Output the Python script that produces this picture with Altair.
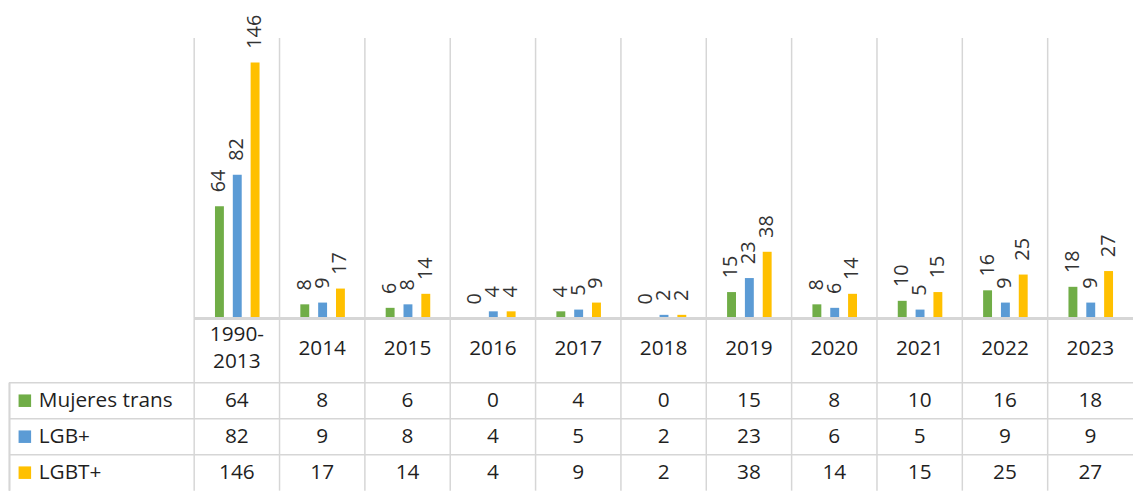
import altair as alt
import pandas as pd

# ---- data ----
categories = ["1990-2013", "2014", "2015", "2016", "2017", "2018",
              "2019", "2020", "2021", "2022", "2023"]
header_labels = ["1990-\n2013", "2014", "2015", "2016", "2017", "2018",
                 "2019", "2020", "2021", "2022", "2023"]
series = ["Mujeres trans", "LGB+", "LGBT+"]
mujeres_trans = [64, 8, 6, 0, 4, 0, 15, 8, 10, 16, 18]
lgb = [82, 9, 8, 4, 5, 2, 23, 6, 5, 9, 9]
lgbt = [146, 17, 14, 4, 9, 2, 38, 14, 15, 25, 27]
colors = ["#70AD47", "#5B9BD5", "#FFC000"]

rows = []
for s, vals in zip(series, [mujeres_trans, lgb, lgbt]):
    for c, v in zip(categories, vals):
        rows.append({"cat": c, "series": s, "value": v})
df = pd.DataFrame(rows)
cat_df = pd.DataFrame({"cat": categories, "label": header_labels})
series_df = pd.DataFrame({"series": series})

FONT = "Open Sans"
GRID = "#D6D6D6"
TXT = "#1F1F1F"

W = 1135
TOP_H, TAB_H = 311, 174
x_scale = alt.Scale(domain=categories, range=[187, W], paddingInner=0, paddingOuter=0)
xoff_scale = alt.Scale(domain=series, range=[21, 66], paddingInner=0.5, paddingOuter=0)
y_scale = alt.Scale(domain=[0, 160], range=[TOP_H, 28], nice=False, zero=True)
row_scale = alt.Scale(domain=series, range=[65, TAB_H], paddingInner=0, paddingOuter=0)
color_scale = alt.Scale(domain=series, range=colors)

X = alt.X("cat:N", scale=x_scale, axis=None, sort=categories)
XG = alt.X("cat:N", scale=x_scale, axis=None, sort=categories, bandPosition=0)
XO = alt.XOffset("series:N", scale=xoff_scale, sort=series)
YV = alt.Y("value:Q", scale=y_scale, axis=None)

# ---- top: bars ----
vgrid_top = alt.Chart(cat_df).mark_rule(stroke=GRID, strokeWidth=1.5).encode(
    x=XG, y=alt.value(28), y2=alt.value(TOP_H)
)
bars = alt.Chart(df).mark_bar().encode(
    x=X, xOffset=XO, y=YV,
    color=alt.Color("series:N", scale=color_scale, legend=None),
)
labels = alt.Chart(df).mark_text(
    angle=270, align="left", baseline="middle", dx=14,
    font=FONT, fontSize=20, color="#333333"
).encode(x=X, xOffset=XO, y=YV, text="value:Q")
baseline = alt.Chart(cat_df).mark_rule(stroke=GRID, strokeWidth=2.5).encode(
    y=alt.YDatum(0, scale=y_scale), x=alt.value(187), x2=alt.value(W)
)
top = alt.layer(vgrid_top, bars, labels, baseline).properties(width=W, height=TOP_H)

# ---- bottom: data table ----
Yrow = alt.Y("series:N", scale=row_scale, axis=None, sort=series)
vgrid_tab = alt.Chart(cat_df).mark_rule(stroke=GRID, strokeWidth=1.5).encode(
    x=XG, y=alt.value(0), y2=alt.value(TAB_H)
)
hlines = alt.Chart(series_df).mark_rule(stroke=GRID, strokeWidth=1.5).encode(
    y=alt.Y("series:N", scale=row_scale, axis=None, sort=series, bandPosition=0),
    x=alt.value(0), x2=alt.value(W),
)
left_border = alt.Chart(series_df).mark_rule(stroke=GRID, strokeWidth=1.5).encode(
    x=alt.value(0.5), y=alt.value(65), y2=alt.value(TAB_H)
)
header_text = dict(font=FONT, fontSize=21, color=TXT, lineBreak="\n", lineHeight=27,
                   baseline="middle")
header_single = alt.Chart(cat_df).transform_filter(
    "indexof(datum.label, '\\n') < 0"
).mark_text(**header_text).encode(x=X, y=alt.value(31), text="label:N")
header_multi = alt.Chart(cat_df).transform_filter(
    "indexof(datum.label, '\\n') >= 0"
).mark_text(**header_text).encode(x=X, y=alt.value(17), text="label:N")
cells = alt.Chart(df).mark_text(font=FONT, fontSize=21, color=TXT, baseline="middle").encode(
    x=X, y=Yrow, text="value:Q"
)
keys = alt.Chart(series_df).mark_square(size=160, opacity=1).encode(
    x=alt.value(16), y=Yrow,
    color=alt.Color("series:N", scale=color_scale, legend=None),
)
row_labels = alt.Chart(series_df).mark_text(
    font=FONT, fontSize=21, color=TXT, align="left", baseline="middle"
).encode(x=alt.value(30), y=Yrow, text="series:N")
table = alt.layer(vgrid_tab, hlines, left_border, header_single, header_multi,
                  cells, keys, row_labels).properties(width=W, height=TAB_H)

chart = alt.vconcat(top, table, spacing=0, bounds="flush").resolve_scale(
    x="independent", y="independent", color="independent"
).properties(padding=0).configure_view(stroke=None)

chart.save("out.html", embed_options={"renderer": "svg", "actions": False})
